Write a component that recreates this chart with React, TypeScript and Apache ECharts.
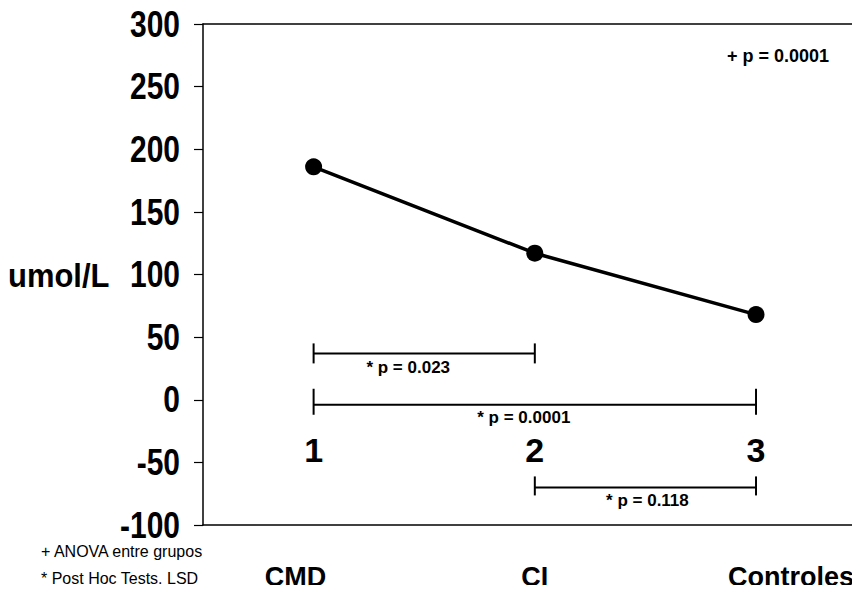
import React, { useEffect, useRef } from "react";
import * as echarts from "echarts";

const groupNumbers = [1, 2, 3];
const groupNames = ["CMD", "CI", "Controles"];
const meanValues = [186, 117, 68];

const bracketFrom = [1, 1, 2];
const bracketTo = [2, 3, 3];
const bracketLevel = [37, -4, -70];
const bracketLabels = ["* p = 0.023", "* p = 0.0001", "* p = 0.118"];

const yTicks = [-100, -50, 0, 50, 100, 150, 200, 250, 300];
const yAxisTitle = "umol/L";
const anovaNote = "+ p = 0.0001";
const footNotes = ["+ ANOVA entre grupos", "* Post Hoc Tests. LSD"];

const FONT = '"Liberation Sans", Arial, Helvetica, sans-serif';

// layout tweaks (pixels)
const bracketLabelDx = [-16, -11, 2];
const bracketLabelDy = [14, 13, 13];
const bracketCapUp = [10, 16, 11];
const bracketCapDown = [10, 10, 8];
const nameLabelDx = [-18, 0, 35];

export default function App() {
  const ref = useRef<HTMLDivElement>(null);
  useEffect(() => {
    if (!ref.current) return;
    const chart = echarts.init(ref.current, null, { renderer: "svg" });
    const bracketData = bracketFrom.map((f, i) => [f, bracketTo[i], bracketLevel[i], i]);
    const xMin = 0.5;
    const xMax = 3.47;
    const hiddenX = {
      type: "value",
      min: xMin,
      max: xMax,
      axisLine: { show: true, onZero: false, lineStyle: { color: "#000", width: 1.5 } },
      axisTick: { show: false },
      axisLabel: { show: false },
      splitLine: { show: false },
    };
    chart.setOption({
      animation: false,
      backgroundColor: "#fff",
      grid: { left: 203, right: 0, top: 24, bottom: 68, containLabel: false },
      xAxis: [
        { ...hiddenX, position: "bottom" },
        { ...hiddenX, position: "top" },
      ],
      yAxis: {
        type: "value",
        min: yTicks[0],
        max: yTicks[yTicks.length - 1],
        interval: 50,
        axisLine: { show: true, onZero: false, lineStyle: { color: "#000", width: 1.5 } },
        axisTick: { show: true, inside: false, length: 9, lineStyle: { color: "#000", width: 1.2 } },
        axisLabel: { show: false },
        splitLine: { show: false },
      },
      graphic: [
        {
          type: "text",
          x: 8,
          y: 275,
          scaleX: 0.91,
          style: {
            text: yAxisTitle,
            fontFamily: FONT,
            fontWeight: "bold",
            fontSize: 34,
            fill: "#000",
            align: "left",
            verticalAlign: "middle",
          },
        },
        {
          type: "text",
          x: 727,
          y: 56,
          style: {
            text: anovaNote,
            fontFamily: FONT,
            fontWeight: "bold",
            fontSize: 18,
            fill: "#000",
            align: "left",
            verticalAlign: "middle",
          },
        },
        {
          type: "text",
          x: 41,
          y: 551,
          style: {
            text: footNotes[0],
            fontFamily: FONT,
            fontSize: 16,
            fill: "#000",
            align: "left",
            verticalAlign: "middle",
          },
        },
        {
          type: "text",
          x: 41,
          y: 578,
          style: {
            text: footNotes[1],
            fontFamily: FONT,
            fontSize: 16,
            fill: "#000",
            align: "left",
            verticalAlign: "middle",
          },
        },
      ],
      series: [
        // y tick labels (condensed bold)
        {
          type: "custom",
          coordinateSystem: "cartesian2d",
          data: yTicks.map((v) => [xMin, v]),
          clip: false,
          silent: true,
          renderItem: (params: any, api: any) => {
            const p = api.coord([api.value(0), api.value(1)]);
            return {
              type: "text",
              x: p[0] - 23,
              y: p[1],
              scaleX: 0.81,
              style: {
                text: String(api.value(1)),
                fontFamily: FONT,
                fontWeight: "bold",
                fontSize: 37,
                fill: "#000",
                align: "right",
                verticalAlign: "middle",
              },
            };
          },
        },
        // significance brackets
        {
          type: "custom",
          coordinateSystem: "cartesian2d",
          data: bracketData,
          clip: false,
          silent: true,
          renderItem: (params: any, api: any) => {
            const x1 = api.value(0);
            const x2 = api.value(1);
            const y = api.value(2);
            const i = api.value(3);
            const p1 = api.coord([x1, y]);
            const p2 = api.coord([x2, y]);
            const up = bracketCapUp[i];
            const dn = bracketCapDown[i];
            const ls = { stroke: "#000", lineWidth: 2 };
            return {
              type: "group",
              children: [
                { type: "line", shape: { x1: p1[0], y1: p1[1], x2: p2[0], y2: p2[1] }, style: ls },
                { type: "line", shape: { x1: p1[0], y1: p1[1] - up, x2: p1[0], y2: p1[1] + dn }, style: ls },
                { type: "line", shape: { x1: p2[0], y1: p2[1] - up, x2: p2[0], y2: p2[1] + dn }, style: ls },
                {
                  type: "text",
                  x: (p1[0] + p2[0]) / 2 + bracketLabelDx[i],
                  y: p1[1] + bracketLabelDy[i],
                  style: {
                    text: bracketLabels[i],
                    fontFamily: FONT,
                    fontWeight: "bold",
                    fontSize: 17,
                    fill: "#000",
                    align: "center",
                    verticalAlign: "middle",
                  },
                },
              ],
            };
          },
        },
        // main line
        {
          type: "line",
          data: groupNumbers.map((g, i) => [g, meanValues[i]]),
          symbol: "circle",
          symbolSize: 17,
          itemStyle: { color: "#000" },
          lineStyle: { color: "#000", width: 3.5 },
          z: 5,
        },
        // group numbers 1, 2, 3
        {
          type: "custom",
          coordinateSystem: "cartesian2d",
          data: groupNumbers.map((g) => [g, -40]),
          clip: false,
          silent: true,
          renderItem: (params: any, api: any) => {
            const p = api.coord([api.value(0), api.value(1)]);
            return {
              type: "text",
              x: p[0],
              y: p[1],
              style: {
                text: String(api.value(0)),
                fontFamily: FONT,
                fontWeight: "bold",
                fontSize: 34,
                fill: "#000",
                align: "center",
                verticalAlign: "middle",
              },
            };
          },
        },
        // group names
        {
          type: "custom",
          coordinateSystem: "cartesian2d",
          data: groupNumbers.map((g, i) => [g, -100, i]),
          clip: false,
          silent: true,
          renderItem: (params: any, api: any) => {
            const p = api.coord([api.value(0), api.value(1)]);
            const i = api.value(2);
            return {
              type: "text",
              x: p[0] + nameLabelDx[i],
              y: p[1] + 52,
              style: {
                text: groupNames[i],
                fontFamily: FONT,
                fontWeight: "bold",
                fontSize: 27,
                fill: "#000",
                align: "center",
                verticalAlign: "middle",
              },
            };
          },
        },
      ],
    });
    return () => chart.dispose();
  }, []);
  return <div ref={ref} style={{ width: 860, height: 593, margin: -8 }} />;
}
